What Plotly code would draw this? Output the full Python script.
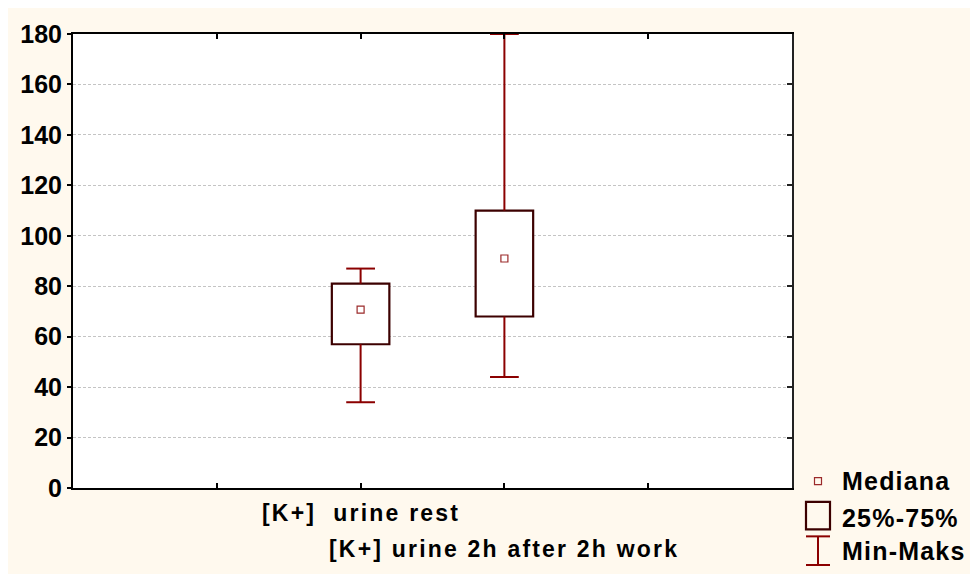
import plotly.graph_objects as go

# dados
categorias = ["[K+]  urine rest", "[K+] urine 2h after 2h work"]
posicoes = [2, 3]
medianas = [70.7, 91]
q1 = [57, 68]
q3 = [81, 110]
minimos = [34, 44]
maximos = [87, 180]
legenda = ["Mediana", "25%-75%", "Min-Maks"]

cor_box = "#3c0000"
cor_bigode = "#8b0000"
cor_mediana = "#9b2a2a"
fonte = "Arial, Liberation Sans, sans-serif"

# area do grafico em pixels na tela (a pagina tem margem de 8px)
OFF = 8
L, R, T, B = 73, 792, 28, 488
W, H = 978 - OFF, 574 - OFF


def px2paper(px, py):
    return (px - L) / (R - L), (B - py) / (B - T)


def esp(txt, s):
    return f'<span style="letter-spacing:{s}px">{txt}</span>'


fig = go.Figure()

# caixas 25%-75%
for p, a, b in zip(posicoes, q1, q3):
    fig.add_shape(type="rect", xref="x", yref="y", x0=p - 0.2, x1=p + 0.2, y0=a, y1=b,
                  line=dict(color=cor_box, width=2.2), fillcolor="white", layer="between")

# bigodes min-max
bx, by = [], []
for p, a, b, lo, hi in zip(posicoes, q1, q3, minimos, maximos):
    bx += [p, p, None, p, p, None, p - 0.1, p + 0.1, None, p - 0.1, p + 0.1, None]
    by += [b, hi, None, a, lo, None, hi, hi, None, lo, lo, None]
fig.add_trace(go.Scatter(x=bx, y=by, mode="lines", line=dict(color=cor_bigode, width=2),
                         hoverinfo="skip", showlegend=False))

# medianas
fig.add_trace(go.Scatter(x=posicoes, y=medianas, mode="markers",
                         marker=dict(symbol="square-open", size=7, color=cor_mediana,
                                     line=dict(width=1.2)),
                         showlegend=False))

# rotulos das categorias (escalonados)
for i, (p, c) in enumerate(zip(posicoes, categorias)):
    fig.add_annotation(x=p, xref="x", y=(B - (513 + 37 * i)) / (B - T), yref="paper",
                       text=esp(c, 2.2), showarrow=False, xanchor="center", yanchor="middle",
                       font=dict(family=fonte, size=23, color="black", weight="bold"))

# legenda manual
mx, my = px2paper(818, 481)
fig.add_shape(type="rect", xref="paper", yref="paper",
              x0=mx - 3.5 / 719, x1=mx + 3.5 / 719, y0=my - 3.5 / 460, y1=my + 3.5 / 460,
              line=dict(color=cor_mediana, width=1.2))
bx0, by0 = px2paper(806, 530)
bx1, by1 = px2paper(830, 502)
fig.add_shape(type="rect", xref="paper", yref="paper", x0=bx0, x1=bx1, y0=by0, y1=by1,
              line=dict(color=cor_box, width=2.2))
for seg in [((818, 537), (818, 566)), ((806, 537), (830, 537)), ((806, 566), (830, 566))]:
    (xa, ya), (xb, yb) = seg
    pa, pb = px2paper(xa, ya), px2paper(xb, yb)
    fig.add_shape(type="line", xref="paper", yref="paper", x0=pa[0], y0=pa[1], x1=pb[0], y1=pb[1],
                  line=dict(color=cor_bigode, width=2))
for txt, ty in zip(legenda, [481, 518, 552]):
    lx, ly = px2paper(840, ty)
    fig.add_annotation(x=lx, y=ly, xref="paper", yref="paper", text=esp(txt, 1.2),
                       showarrow=False, xanchor="left", yanchor="middle",
                       font=dict(family=fonte, size=25, color="black", weight="bold"))

fig.update_layout(
    width=W, height=H,
    margin=dict(l=L - OFF, r=W - (R - OFF), t=T - OFF, b=H - (B - OFF)),
    paper_bgcolor="#fff9ee", plot_bgcolor="white",
    showlegend=False,
    xaxis=dict(range=[0, 5], tickvals=[0, 1, 2, 3, 4, 5], showticklabels=False,
               ticks="inside", ticklen=5, tickwidth=2, tickcolor="black",
               showline=True, linecolor="black", linewidth=2, showgrid=False, zeroline=False),
    xaxis2=dict(range=[0, 5], overlaying="x", side="top", tickvals=[1, 2, 3, 4],
                showticklabels=False, ticks="inside", ticklen=5, tickwidth=2, tickcolor="black",
                showline=True, linecolor="black", linewidth=2, showgrid=False, zeroline=False),
    yaxis=dict(range=[0, 180], tickvals=list(range(0, 181, 20)), ticks="outside", ticklen=4,
               tickwidth=2, tickcolor="black", showline=True, linecolor="black", linewidth=2,
               showgrid=True, gridcolor="#c4c4c4", griddash="3px,2px", gridwidth=1,
               zeroline=False,
               tickfont=dict(family=fonte, size=25, color="black", weight="bold")),
    yaxis2=dict(range=[0, 180], overlaying="y", side="right", tickvals=list(range(20, 180, 20)),
                showticklabels=False, ticks="inside", ticklen=5, tickwidth=2, tickcolor="#222",
                showline=True, linecolor="#222", linewidth=2, showgrid=False, zeroline=False),
)
# traco invisivel para ativar eixos secundarios
fig.add_trace(go.Scatter(x=[None], y=[None], xaxis="x2", yaxis="y2", showlegend=False))

fig.write_html("out.html")
